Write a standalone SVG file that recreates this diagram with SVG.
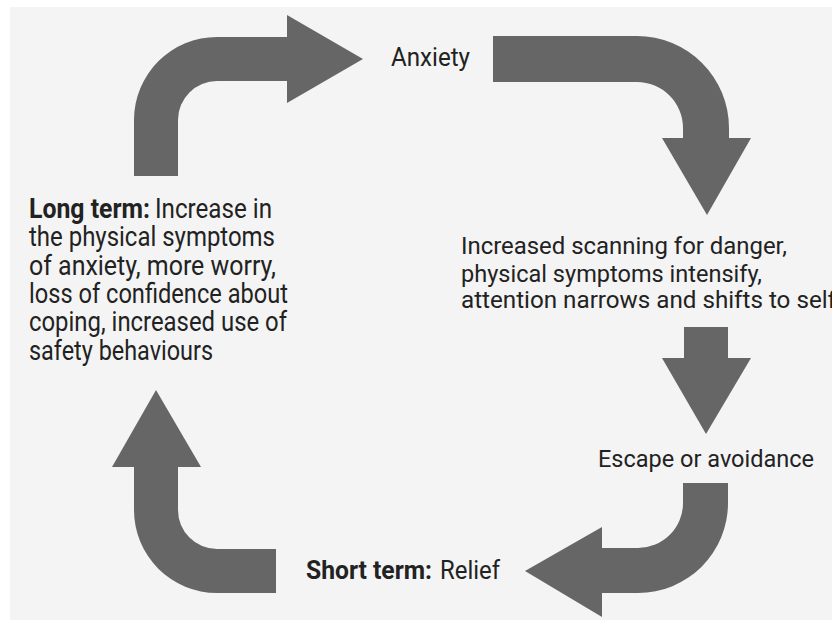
<svg xmlns="http://www.w3.org/2000/svg" width="832" height="621" viewBox="0 0 832 621">
  <style>
    .t { font-family: Roboto, "Liberation Sans", sans-serif; fill: #222222; }
    .b { font-weight: bold; }
    .arrow { fill: #666666; }
  </style>
  <rect x="0" y="0" width="832" height="621" fill="#ffffff"/>
  <rect x="10" y="7" width="822" height="613" fill="#f4f4f4"/>

  <g id="connectors">
    <path class="arrow" d="M134,176 L134,120 A83,83 0 0 1 217,37 L287,37 L287,15 L363,59 L287,103 L287,81 L217,81 A39,39 0 0 0 178,120 L178,176 Z"/>
    <path class="arrow" d="M493,36 L637,36 A92,92 0 0 1 729,128 L729,138 L751,138 L707,215 L662,138 L683,138 L683,128 A46,46 0 0 0 637,82 L493,82 Z"/>
    <path class="arrow" d="M684,327 L728,327 L728,358 L751,358 L706,434 L662,358 L684,358 Z"/>
    <path class="arrow" d="M683,483 L728,483 L728,503 A90,90 0 0 1 638,593 L602,593 L602,617 L525,571 L602,527 L602,548 L638,548 A45,45 0 0 0 683,503 Z"/>
    <path class="arrow" d="M276,549 L217,549 A39,39 0 0 1 178,510 L178,467 L201,467 L156,390 L112,467 L134,467 L134,510 A83,83 0 0 0 217,593 L276,593 Z"/>
  </g>

  <g id="anxiety">
    <text class="t" x="391" y="66" font-size="25" textLength="79" lengthAdjust="spacingAndGlyphs">Anxiety</text>
  </g>

  <g id="scanning">
    <text class="t" x="461" y="254.3" font-size="23.5" textLength="326" lengthAdjust="spacingAndGlyphs">Increased scanning for danger,</text>
    <text class="t" x="461" y="281.7" font-size="23.5" textLength="301" lengthAdjust="spacingAndGlyphs">physical symptoms intensify,</text>
    <text class="t" x="461" y="308.3" font-size="23.5" textLength="375" lengthAdjust="spacingAndGlyphs">attention narrows and shifts to self</text>
  </g>

  <g id="escape">
    <text class="t" x="598" y="466.7" font-size="23.5" textLength="216" lengthAdjust="spacingAndGlyphs">Escape or avoidance</text>
  </g>

  <g id="short-term">
    <text class="t b" x="306" y="579" font-size="26" textLength="126" lengthAdjust="spacingAndGlyphs">Short term:</text>
    <text class="t" x="440" y="579" font-size="26" textLength="60" lengthAdjust="spacingAndGlyphs">Relief</text>
  </g>

  <g id="long-term">
    <text class="t b" x="29" y="217.7" font-size="27" textLength="121" lengthAdjust="spacingAndGlyphs">Long term:</text>
    <text class="t" x="155" y="217.7" font-size="27" textLength="117" lengthAdjust="spacingAndGlyphs">Increase in</text>
    <text class="t" x="29" y="246" font-size="27" textLength="246" lengthAdjust="spacingAndGlyphs">the physical symptoms</text>
    <text class="t" x="29" y="274.5" font-size="27" textLength="247" lengthAdjust="spacingAndGlyphs">of anxiety, more worry,</text>
    <text class="t" x="29" y="303" font-size="27" textLength="259" lengthAdjust="spacingAndGlyphs">loss of confidence about</text>
    <text class="t" x="29" y="331" font-size="27" textLength="258" lengthAdjust="spacingAndGlyphs">coping, increased use of</text>
    <text class="t" x="29" y="359.5" font-size="27" textLength="184" lengthAdjust="spacingAndGlyphs">safety behaviours</text>
  </g>
</svg>
